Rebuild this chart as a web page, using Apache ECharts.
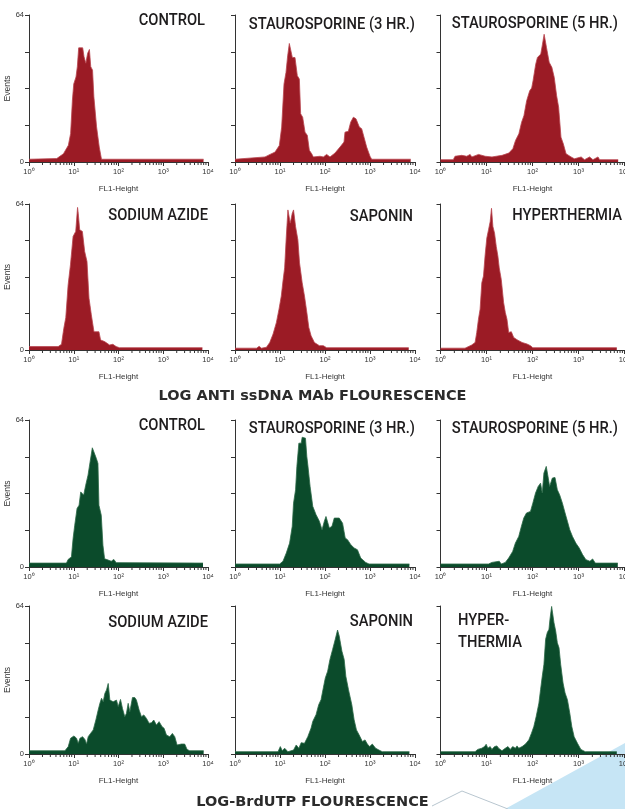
<!DOCTYPE html>
<html><head><meta charset="utf-8">
<script src="https://cdn.jsdelivr.net/npm/echarts@6/dist/echarts.min.js"></script>
<style>html,body{margin:0;padding:0;background:#fff}#c{width:625px;height:809px}</style>
</head><body><div id="c"></div>
<script>
// ---- DATA: each point is [log10(FL1-Height), Events] ----
const redControl = [[0,1.2],[0.62,1.5],[0.77,3.6],[0.88,7.3],[0.93,12.4],[0.97,27],[1.0,34],[1.05,37],[1.08,41.5],[1.11,49.7],[1.2,49.7],[1.23,45.8],[1.27,43],[1.31,47.3],[1.35,49],[1.38,41.5],[1.42,40],[1.45,28.4],[1.51,15.3],[1.57,6.5],[1.62,1.2],[3.9,1.2]];
const redStauro3 = [[0,1.2],[0.667,2.2],[0.704,1.4],[0.778,3.3],[0.889,4.3],[0.985,7.2],[1.037,15.2],[1.089,34],[1.133,39],[1.17,46.2],[1.207,51.6],[1.237,51.3],[1.274,45.5],[1.333,45.5],[1.385,37.6],[1.43,36.1],[1.459,21],[1.504,19.5],[1.556,13],[1.607,11.6],[1.652,5.1],[1.704,3.6],[1.741,2.2],[1.889,2.5],[1.926,2.9],[1.963,2.2],[2.037,3.3],[2.111,2.2],[2.222,3.9],[2.333,6.5],[2.422,8.7],[2.444,13],[2.519,13.4],[2.57,17.3],[2.63,19.5],[2.689,18.8],[2.763,15.2],[2.815,14.5],[2.867,10.8],[2.926,6.5],[3.0,2.5],[3.037,1.2],[3.904,1.2]];
const redStauro5 = [[0,1.0],[0.278,1.0],[0.315,2.5],[0.461,2.9],[0.497,3.6],[0.571,2.5],[0.644,3.3],[0.68,2.2],[0.827,3.3],[0.973,2.5],[1.119,2.2],[1.339,2.9],[1.485,3.9],[1.573,5.8],[1.631,9.4],[1.704,12.3],[1.763,17.3],[1.814,20.2],[1.873,26.7],[1.939,31],[1.982,32.2],[2.012,35.4],[2.07,42.6],[2.107,45.5],[2.18,47],[2.217,51.3],[2.253,55.6],[2.275,56.4],[2.304,49.9],[2.363,43.4],[2.421,41.2],[2.473,36.8],[2.524,28.9],[2.568,23.8],[2.619,10.8],[2.67,7.9],[2.729,3.6],[2.838,2.2],[2.911,1.4],[3.058,2.2],[3.131,1.0],[3.241,2.2],[3.314,1.0],[3.424,2.2],[3.46,1.0],[3.862,1.0]];
const redAzide = [[0,1.5],[0.652,1.5],[0.726,2.5],[0.778,9.5],[0.822,14.2],[0.874,28.5],[0.926,37.3],[0.985,49.8],[1.044,52],[1.085,62.5],[1.1,60],[1.133,52.7],[1.193,52],[1.244,43.2],[1.296,38.8],[1.341,22.7],[1.393,15.4],[1.452,8],[1.563,8],[1.6,4.4],[1.689,3.7],[1.8,2.2],[1.874,2.5],[1.948,1.5],[2.022,1.0],[3.874,1.0]];
const redSaponin = [[0,0.8],[0.478,0.8],[0.537,1.6],[0.588,0.8],[0.699,1.2],[0.772,3.3],[0.846,7],[0.919,12],[0.978,17.9],[1.029,23.7],[1.066,30.2],[1.103,36],[1.14,49.8],[1.176,61.4],[1.228,55.6],[1.272,59.9],[1.301,61.4],[1.346,54.1],[1.397,48.3],[1.434,38.2],[1.493,29.5],[1.544,23.7],[1.596,16.5],[1.64,9.9],[1.691,6.2],[1.765,3.3],[1.875,1.9],[1.963,1.9],[2.007,2.6],[2.037,1.0],[3.86,1.0]];
const redHyper = [[0,0.8],[0.533,0.8],[0.679,2.2],[0.752,3.3],[0.788,7.7],[0.825,13.5],[0.861,17.9],[0.898,29.5],[0.934,32.4],[0.971,41.8],[1.007,49.1],[1.044,52.7],[1.08,56.3],[1.109,62.1],[1.139,54.1],[1.175,51.2],[1.212,45.4],[1.248,41.1],[1.277,36],[1.321,30.9],[1.372,20.8],[1.409,16.4],[1.445,13.5],[1.482,7.7],[1.54,8],[1.591,5.5],[1.664,4.5],[1.774,3.3],[1.883,2.6],[1.956,1.9],[2.007,1.0],[3.832,1.0]];
const greenControl = [[0,1.7],[0.837,1.7],[0.874,3.3],[0.948,4.4],[0.985,12.4],[1.022,18.2],[1.074,25.5],[1.119,26.9],[1.156,32.7],[1.193,33],[1.222,31.3],[1.267,35.6],[1.319,40],[1.356,40.7],[1.415,51.9],[1.452,51.9],[1.504,47.3],[1.541,45.1],[1.563,26.9],[1.615,22.5],[1.652,9.5],[1.689,3.6],[1.785,2.9],[1.837,2.5],[1.896,3.3],[1.948,1.9],[3.889,1.7]];
const greenStauro3 = [[0,1.3],[0.993,1.3],[1.066,2.5],[1.14,6.1],[1.213,10.4],[1.272,17.7],[1.301,27.8],[1.346,33.6],[1.375,43.8],[1.419,53.9],[1.471,53.9],[1.493,56.5],[1.566,56.1],[1.596,48.1],[1.618,44.5],[1.669,35.1],[1.728,26.4],[1.801,22.8],[1.875,19.9],[1.934,16.2],[1.985,19.9],[2.022,22],[2.059,21.3],[2.096,17],[2.154,17.7],[2.206,21.3],[2.316,21.3],[2.39,19.1],[2.449,12.6],[2.5,11.9],[2.574,9.7],[2.647,8.3],[2.721,7.5],[2.794,3.9],[2.904,2.0],[2.978,1.3],[3.875,1.3]];
const greenStauro5 = [[0,1.3],[1.044,1.3],[1.117,2.0],[1.277,2.5],[1.321,1.3],[1.409,2.0],[1.482,3.9],[1.569,6.8],[1.628,10.4],[1.701,13.3],[1.759,17.7],[1.81,21.3],[1.869,23.5],[1.956,24.2],[2.007,27.8],[2.066,32.2],[2.124,35.1],[2.175,36.5],[2.212,32.2],[2.248,40.9],[2.299,43.8],[2.343,38.7],[2.372,35.1],[2.431,38.7],[2.489,39],[2.54,33.6],[2.591,31.4],[2.65,27.8],[2.708,23.5],[2.759,19.9],[2.81,16.2],[2.869,13.3],[2.942,10.4],[3.015,8.3],[3.088,5.4],[3.161,3.2],[3.248,2.5],[3.307,3.5],[3.365,1.7],[3.854,1.7]];
const greenAzide = [[0,1.4],[0.803,1.4],[0.84,1.7],[0.877,3.2],[0.929,6.8],[1.004,7.8],[1.063,6.8],[1.1,4.6],[1.138,6.8],[1.197,7.5],[1.249,6.3],[1.286,4.3],[1.323,7.5],[1.375,8.9],[1.435,10.4],[1.494,14.7],[1.546,19],[1.584,21.9],[1.621,24.1],[1.658,22.6],[1.695,26.2],[1.732,27.7],[1.77,30.5],[1.807,23.3],[1.844,24.1],[1.881,22.6],[1.918,23.3],[1.955,23.3],[1.993,20.5],[2.045,23.6],[2.089,19.7],[2.141,16.1],[2.178,17.6],[2.216,21.9],[2.253,18.3],[2.312,24.4],[2.364,24.4],[2.401,23.3],[2.461,19],[2.513,16.1],[2.565,16.9],[2.625,15.4],[2.684,13.3],[2.736,13.5],[2.788,14.7],[2.848,12.5],[2.907,14],[2.944,14],[2.974,11.8],[3.019,11.1],[3.071,8.2],[3.145,7.5],[3.204,8.9],[3.257,7.5],[3.309,3.9],[3.405,4.3],[3.48,4.3],[3.532,2.0],[3.591,1.4],[3.903,1.4]];
const greenSaponin = [[0,1.0],[0.956,1.0],[1.007,3.2],[1.051,1.4],[1.103,2.5],[1.176,1.0],[1.301,1.7],[1.36,3.9],[1.419,2.5],[1.471,4.9],[1.544,4.6],[1.618,7.5],[1.691,11.2],[1.728,14.1],[1.801,17],[1.86,21.3],[1.912,23.5],[1.963,28.6],[2.007,32.9],[2.059,35.8],[2.11,40.9],[2.169,45.2],[2.228,49.6],[2.279,53.6],[2.316,51],[2.375,44.5],[2.426,40.9],[2.463,33.6],[2.522,27.8],[2.596,21.3],[2.647,14.8],[2.699,10.4],[2.757,8.3],[2.831,5.4],[2.89,6.1],[2.941,4.3],[2.993,3.2],[3.051,4.3],[3.125,2.5],[3.199,1.7],[3.272,1.0],[3.875,1.0]];
const greenHyper = [[0,1.0],[0.752,1.0],[0.81,2.0],[0.898,2.5],[0.956,3.2],[0.993,4.2],[1.029,2.5],[1.08,3.2],[1.117,2.0],[1.175,3.2],[1.226,3.5],[1.263,2.5],[1.336,1.4],[1.409,2.5],[1.467,3.2],[1.518,2.0],[1.569,3.2],[1.628,2.5],[1.664,3.5],[1.701,2.5],[1.774,3.2],[1.847,4.3],[1.92,6.1],[1.978,9],[2.029,11.9],[2.08,16.2],[2.139,22],[2.175,27.8],[2.212,33.6],[2.248,38.7],[2.285,49.6],[2.321,52.5],[2.358,53.9],[2.38,58.3],[2.416,63.8],[2.445,63.8],[2.467,56.8],[2.504,53.2],[2.54,48.1],[2.577,45.9],[2.613,38.7],[2.664,30.7],[2.708,26.4],[2.759,23.5],[2.81,17.7],[2.854,11.9],[2.905,7.5],[2.978,4.6],[3.051,2.0],[3.146,1.0],[3.832,1.0]];

const panelTitles = ['CONTROL','STAUROSPORINE (3 HR.)','STAUROSPORINE (5 HR.)','SODIUM AZIDE','SAPONIN','HYPERTHERMIA',
                     'CONTROL','STAUROSPORINE (3 HR.)','STAUROSPORINE (5 HR.)','SODIUM AZIDE','SAPONIN','HYPER-\nTHERMIA'];
const sectionTitles = ['LOG ANTI ssDNA MAb FLOURESCENCE','LOG-BrdUTP FLOURESCENCE'];
const xTickLabels = {1:'10\u2070',10:'10\u00b9',100:'10\u00b2',1000:'10\u00b3',10000:'10\u2074'};
const yTickLabels = {0:'0',64:'64'};
const xAxisTitle = 'FL1-Height';
const yAxisTitle = 'Events';
const minorTickValues = [2,3,4,5,6,7,8,9,20,30,40,50,60,70,80,90,200,300,400,500,600,700,800,900,2000,3000,4000,5000,6000,7000,8000,9000];
const histograms = [redControl,redStauro3,redStauro5,redAzide,redSaponin,redHyper,
                    greenControl,greenStauro3,greenStauro5,greenAzide,greenSaponin,greenHyper];

// ---- LAYOUT / STYLE ----
const SANS = "'Liberation Sans',Arial,sans-serif";
const TITLE_FONT = "500 16px Roboto,'Liberation Sans',sans-serif";
const RED = {fill:'#9b1b25', edge:'#b9454f'};
const GREEN = {fill:'#0b4b2b', edge:'#2c6a48'};
const colBox = [{left:29,width:179},{left:235,width:180},{left:440.5,width:184}];
const rowBox = [{top:15,height:147},{top:204,height:146},{top:420,height:147},{top:606,height:148}];
const titleRight = [205,415,618, 208,413,622, 205,415,618, 208,413,null];
const titleCapTop = [13.3,17,16.7, 208.3,209,208, 418.3,421.7,421, 615,614,613];

const grids=[], xAxes=[], yAxes=[], series=[], graphics=[];
histograms.forEach((hist,i)=>{
  const r = Math.floor(i/3), c = i%3;
  const pal = r<2 ? RED : GREEN;
  grids.push({left:colBox[c].left, top:rowBox[r].top, width:colBox[c].width, height:rowBox[r].height, containLabel:false, outerBoundsMode:'none'});
  xAxes.push({type:'log', logBase:10, gridIndex:i, min:1, max:10000,
    axisLine:{show:true, onZero:true, lineStyle:{color:'#333', width:1}},
    axisTick:{show:true, length:4, lineStyle:{color:'#333'}},
    axisLabel:{fontSize:7.5, color:'#333', margin:6, fontFamily:SANS, formatter:v=>xTickLabels[Math.round(v)]||''},
    splitLine:{show:false},
    name:xAxisTitle, nameLocation:'middle', nameGap:23,
    nameTextStyle:{fontSize:8, color:'#333', fontFamily:SANS}});
  yAxes.push({type:'value', gridIndex:i, min:0, max:64, interval:16,
    axisLine:{show:true, lineStyle:{color:'#333', width:1}},
    axisTick:{show:true, length:4, lineStyle:{color:'#333'}},
    axisLabel:{show:c===0, fontSize:7.5, color:'#333', margin:5, fontFamily:SANS, formatter:v=>yTickLabels[v]||''},
    splitLine:{show:false},
    name: c===0 ? yAxisTitle : '', nameLocation:'middle', nameGap:11, nameRotate:90,
    nameTextStyle:{fontSize:8.5, color:'#333', fontFamily:SANS}});
  series.push({type:'line', xAxisIndex:i, yAxisIndex:i, symbol:'none', silent:true,
    data: hist.map(p=>[Math.pow(10,p[0]), p[1]]),
    lineStyle:{color:pal.edge, width:0.8},
    areaStyle:{color:pal.fill, opacity:1}, z:2});
  series.push({type:'custom', xAxisIndex:i, yAxisIndex:i, silent:true, clip:false, z:3,
    data: minorTickValues.map(v=>[v,0]),
    renderItem:(params,api)=>{
      const p = api.coord([api.value(0),0]);
      return {type:'line', shape:{x1:p[0], y1:p[1], x2:p[0], y2:p[1]+3}, style:{stroke:'#333', lineWidth:1}};
    }});
  // panel title: condensed look via horizontal scale of real text
  const isTwoLine = titleRight[i]===null;
  graphics.push({type:'text', silent:true, z:20,
    x: isTwoLine ? 458 : titleRight[i],
    y: isTwoLine ? titleCapTop[i]-3 : titleCapTop[i]-0.5,
    scaleX:0.92,
    style:{text:panelTitles[i], fill:'#1e1c1d', font:TITLE_FONT,
      textAlign: isTwoLine?'left':'right', align: isTwoLine?'left':'right',
      textVerticalAlign:'top', verticalAlign:'top', lineHeight: isTwoLine?22:16}});
});

const titles = [
  {text:sectionTitles[0], left:'center', top:388, padding:0,
   textStyle:{fontSize:14.5, fontWeight:'bold', color:'#2b2b2b', fontFamily:"'DejaVu Sans',sans-serif", lineHeight:16}},
  {text:sectionTitles[1], left:'center', top:794, padding:0,
   textStyle:{fontSize:14.5, fontWeight:'bold', color:'#2b2b2b', fontFamily:"'DejaVu Sans',sans-serif", lineHeight:16}}
];

graphics.push({type:'polygon', z:-10, silent:true, shape:{points:[[505,809],[625,743],[625,809]]}, style:{fill:'#c6e5f5'}});
graphics.push({type:'polyline', z:-9, silent:true, shape:{points:[[432,806],[462,791],[508,809]]}, style:{stroke:'#b8c6cf', lineWidth:1, fill:null}});

const chart = echarts.init(document.getElementById('c'), null, {renderer:'canvas'});
chart.setOption({
  animation:false, backgroundColor:'#fff',
  title:titles, grid:grids, xAxis:xAxes, yAxis:yAxes, series:series,
  graphic:graphics
});
</script></body></html>
